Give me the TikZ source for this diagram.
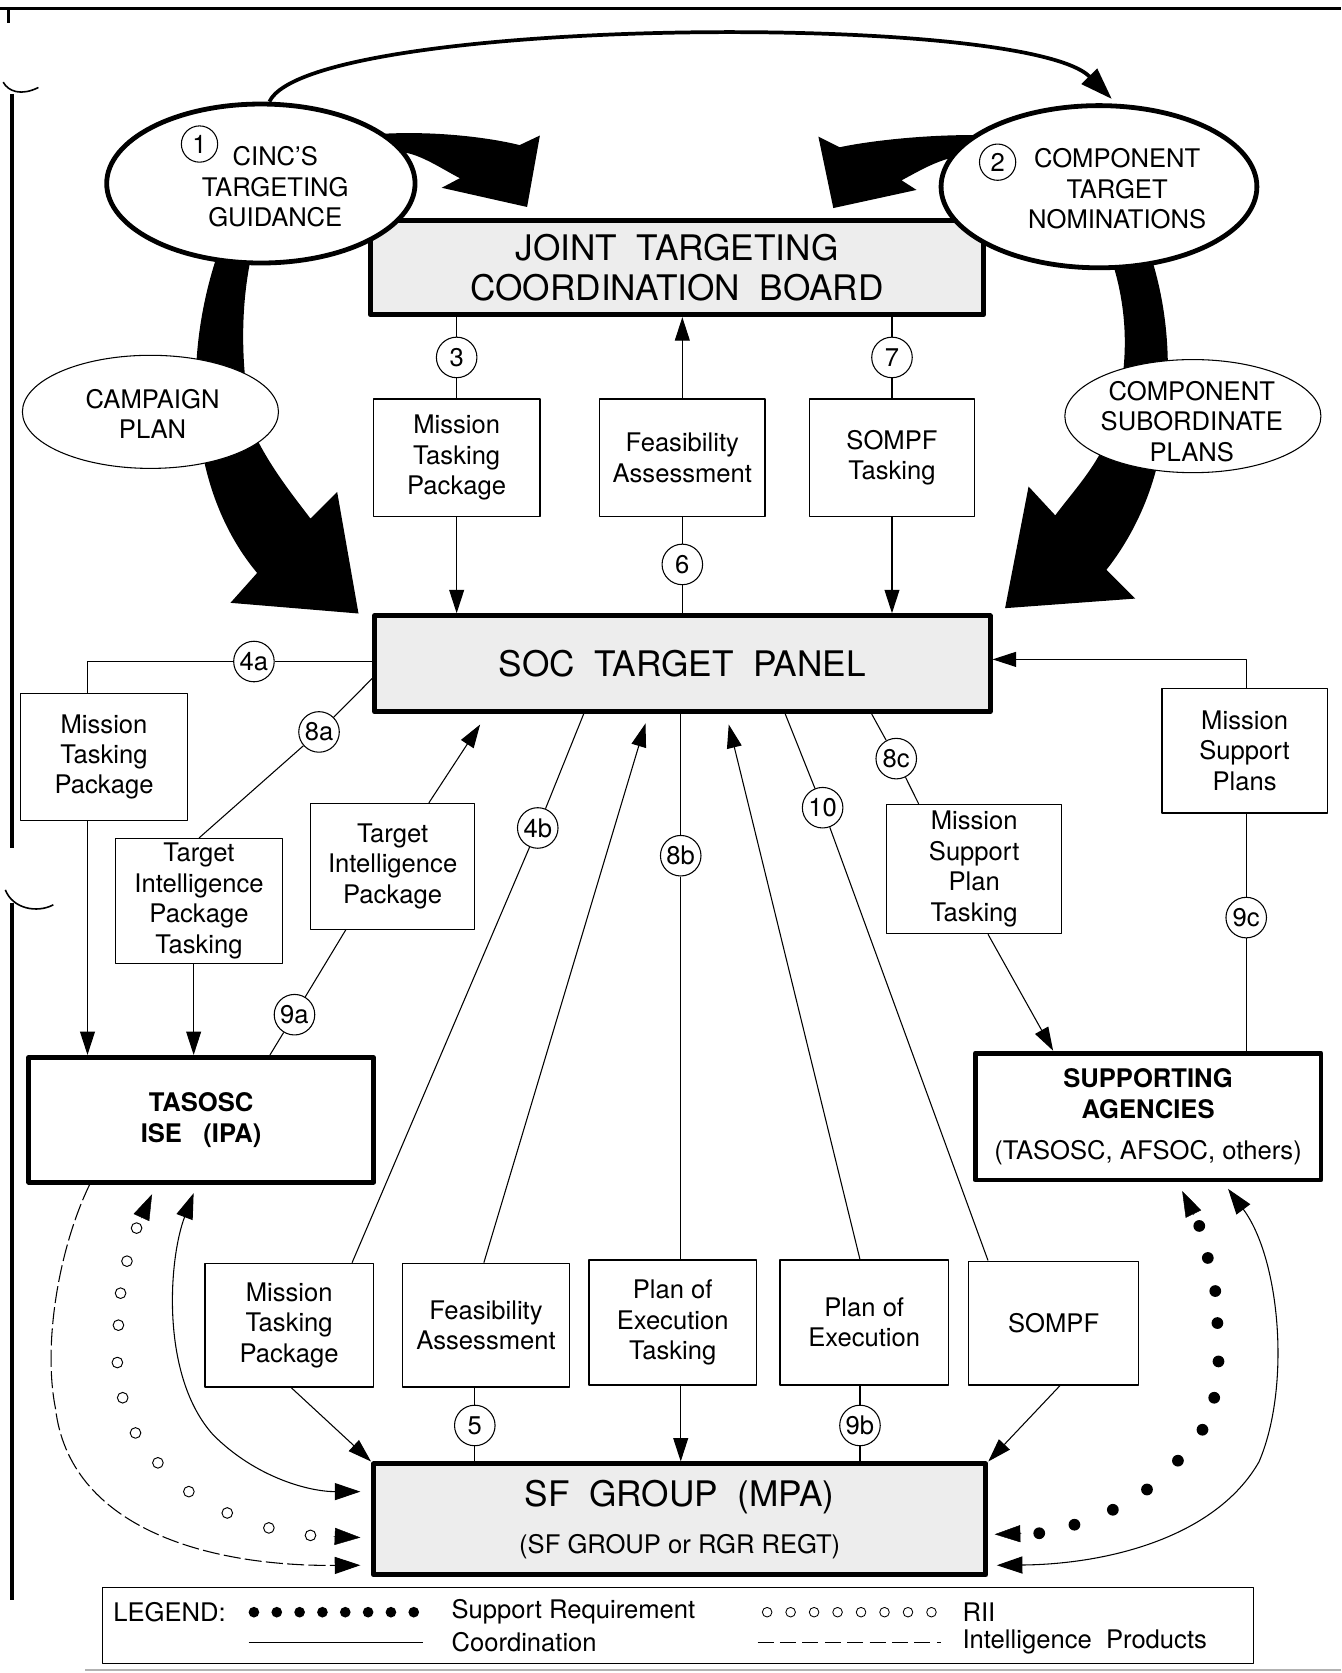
\documentclass[tikz,border=0pt]{standalone}
\usepackage{fontspec}
\setmainfont{TeX Gyre Heros}
\usetikzlibrary{arrows.meta,shapes.geometric,calc}

\begin{document}
\begin{tikzpicture}[x=1pt,y=-1pt,line join=round,
	font=\fontsize{24}{28.5}\selectfont,
	>={Triangle[length=22pt,width=14pt]},
	link/.style={line width=1pt},
	arr/.style={link,->},
	head/.style={line width=0.4pt,-{Triangle[length=24pt,width=16pt]}},
	box/.style={draw,line width=1.2pt,fill=white,align=center,minimum width=156pt,minimum height=116pt,inner sep=2pt},
	panel/.style={draw,line width=4.5pt,fill=black!7,align=center,font=\fontsize{33}{37}\selectfont},
	agency/.style={draw,line width=4.5pt,fill=white,align=center,font=\fontsize{24}{29}\selectfont\bfseries},
	oval/.style={ellipse,draw,fill=white,inner sep=0pt},
	num/.style={circle,draw,line width=1pt,fill=white,minimum size=38pt,inner sep=0pt},
	lgtext/.style={anchor=west,inner sep=0pt}]
\useasboundingbox (0,0) rectangle (1257,1568);

% page frame
\draw[line width=2.5pt] (0,8) -- (1257,8);
\draw[line width=2.5pt] (8,8) -- (8,22);
\draw[line width=1.5pt] (3,77) .. controls (8,86) and (20,90) .. (36,82);
\draw[line width=3.5pt] (11,88) -- (11,795);
\draw[line width=1.5pt] (5,834) .. controls (12,852) and (35,856) .. (50,848);
\draw[line width=3.5pt] (11,846) -- (11,1500);
\draw[gray!60,line width=1.5pt] (80,1565) -- (1257,1565);

% boards
\node[panel,minimum width=575pt,minimum height=88pt] (jtcb) at (634.5,251) {JOINT\ \ TARGETING\\COORDINATION\ \ BOARD};
\node[panel,minimum width=577pt,minimum height=90pt] (soc) at (639.5,622) {SOC\ \ TARGET\ \ PANEL};
\node[panel,minimum width=574pt,minimum height=104pt] (sfg) at (637,1424) {SF\ \ GROUP\ \ (MPA)\\[7pt]\fontsize{24}{28.5}\selectfont (SF GROUP or RGR REGT)};

% broad arrows
\fill (350,126) .. controls (400,122) and (455,128) .. (487,136) -- (506,127) -- (494,194) -- (414,176) -- (431,167) .. controls (410,156) and (392,143) .. (372,142) -- (350,140) -- cycle;
\fill (930,127) .. controls (880,125) and (820,131) .. (787,138) -- (767,128) -- (781,195) -- (859,178) -- (845,169) .. controls (862,160) and (878,150) .. (900,146) -- (930,146) -- cycle;
\fill (204,238) .. controls (188,285) and (180,340) .. (185,390) .. controls (190,450) and (210,500) .. (241,537) -- (216,565) -- (336,575) -- (316,461) -- (291,486) .. controls (275,465) and (255,440) .. (240,410) .. controls (228,370) and (222,300) .. (236,238) -- cycle;
\fill (1040,238) .. controls (1058,290) and (1058,340) .. (1045,390) .. controls (1035,430) and (1010,455) .. (989,483) -- (964,456) -- (942,570) -- (1064,561) -- (1037,534) .. controls (1060,505) and (1080,465) .. (1088,420) .. controls (1098,360) and (1098,300) .. (1078,238) -- cycle;

% ellipses
\node[oval,line width=4.5pt,minimum width=289pt,minimum height=149pt] (cinc) at (244.5,172) {};
\node[oval,line width=4.5pt,minimum width=296pt,minimum height=152pt] (ctn) at (1030,175) {};
\node[oval,line width=1pt,minimum width=240pt,minimum height=106pt] (camp) at (141,386) {};
\node[oval,line width=1pt,minimum width=240pt,minimum height=106pt] (csp) at (1118,390) {};
\node[align=center] (cinct) at (258,175) {CINC'S\\TARGETING\\GUIDANCE};
\node[align=center] (ctnt) at (1047,177) {COMPONENT\\TARGET\\NOMINATIONS};
\node[align=center] (campt) at (143,388) {CAMPAIGN\\PLAN};
\node[align=center] (cspt) at (1117,395) {COMPONENT\\SUBORDINATE\\PLANS};
\node[num,minimum size=34pt] (c1) at (187,135) {1};
\node[num,minimum size=34pt] (c2) at (935,152) {2};
\draw[line width=3.5pt,-{Triangle[length=30pt,width=20pt]}] ([xshift=8pt]cinc.north) .. controls (290,16) and (960,10) .. ([xshift=12pt,yshift=4pt]ctn.north);

% packages
\node[box,minimum height=110pt] (mtp3) at (428,429) {Mission\\Tasking\\Package};
\node[box,minimum width=155pt,minimum height=110pt] (fa6) at (639.5,429) {Feasibility\\Assessment};
\node[box,minimum width=155pt,minimum height=110pt] (sompft) at (836,429) {SOMPF\\Tasking};
\node[box,minimum width=157pt,minimum height=119pt] (mtp4a) at (97.5,709.5) {Mission\\Tasking\\Package};
\node[box,minimum width=157pt,minimum height=117pt] (tipt) at (186.5,844.5) {Target\\Intelligence\\Package\\Tasking};
\node[box,minimum width=154pt,minimum height=118pt] (tip) at (368,812) {Target\\Intelligence\\Package};
\node[box,minimum width=164pt,minimum height=121pt] (mspt) at (913,814.5) {Mission\\Support\\Plan\\Tasking};
\node[box,minimum width=155pt,minimum height=117pt] (msp) at (1166.5,703.5) {Mission\\Support\\Plans};
\node[box,minimum width=158pt] (mtp4b) at (271,1242) {Mission\\Tasking\\Package};
\node[box,minimum width=157pt] (fa5) at (455.5,1242) {Feasibility\\Assessment};
\node[box,minimum width=157pt,minimum height=117pt] (poet) at (630.5,1239.5) {Plan of\\Execution\\Tasking};
\node[box,minimum width=158pt,minimum height=117pt] (poe) at (810,1239.5) {Plan of\\Execution};
\node[box,minimum width=159pt] (sompf) at (987.5,1240) {SOMPF};
\node[agency,minimum width=323pt,minimum height=117pt] (tasosc) at (188.5,1049.5) {TASOSC\\ISE\ \ \ (IPA)};
\node[agency,minimum width=324pt,minimum height=119pt] (supag) at (1076,1046.5) {SUPPORTING\\AGENCIES\\[10pt]\mdseries (TASOSC, AFSOC, others)};

% step numbers
\node[num] (c3) at (428,335) {3};
\node[num] (c7) at (836,335) {7};
\node[num] (c6) at (639.5,529) {6};
\node[num] (c4a) at (238,620) {4a};
\node[num] (c8a) at (299,686) {8a};
\node[num] (c9a) at (276,951) {9a};
\node[num] (c4b) at (504,776) {4b};
\node[num] (c8b) at (638,802) {8b};
\node[num] (c10) at (771,757) {10};
\node[num] (c8c) at (840,711) {8c};
\node[num] (c9c) at (1168,860) {9c};
\node[num] (c5) at (445,1336) {5};
\node[num] (c9b) at (806,1336) {9b};
\coordinate (k4a) at (82,620);
\coordinate (t9a) at (450,679);
\coordinate (t5) at (605,678);
\coordinate (t9b) at (683,679);

% JTCB <-> SOC
\draw[link] (c3 |- jtcb.south) -- (c3) -- (c3 |- mtp3.north);
\draw[arr] (c3 |- mtp3.south) -- (c3 |- soc.north);
\draw[link] (c6 |- soc.north) -- (c6) -- (c6 |- fa6.south);
\draw[arr] (c6 |- fa6.north) -- (c6 |- jtcb.south);
\draw[link] (c7 |- jtcb.south) -- (c7) -- (c7 |- sompft.north);
\draw[arr] (c7 |- sompft.south) -- (c7 |- soc.north);

% SOC -> TASOSC
\draw[link] (soc.west |- c4a) -- (c4a) -- (k4a) -- (k4a |- mtp4a.north);
\draw[arr] (k4a |- mtp4a.south) -- (k4a |- tasosc.north);
\draw[link] ([yshift=-14pt]soc.west) -- (c8a) -- (tipt.north);
\draw[arr] ([xshift=-5pt]tipt.south) -- ([xshift=-5pt]tipt.south |- tasosc.north);
\draw[arr] ([xshift=34pt]tip.north) -- (t9a);
\draw[link] ([xshift=-44pt]tip.south) -- (c9a) -- ([xshift=64.5pt]tasosc.north);

% SOC <-> SF group
\draw[link] ([xshift=-92.5pt]soc.south) -- (c4b) -- ([xshift=59pt]mtp4b.north);
\draw[arr] ([xshift=-2pt]fa5.north) -- (t5);
\draw[link] (c8b |- soc.south) -- (c8b) -- (c8b |- poet.north);
\draw[arr] (c8b |- poet.south) -- (c8b |- sfg.north);
\draw[arr] ([xshift=-4pt]poe.north) -- (t9b);
\draw[link] ([xshift=96.5pt]soc.south) -- (c10) -- ([xshift=-61.5pt]sompf.north);
\draw[link] (c5 |- fa5.south) -- (c5) -- (c5 |- sfg.north);
\draw[link] (c9b |- poe.south) -- (c9b) -- (c9b |- sfg.north);
\draw[arr] ([xshift=2pt]mtp4b.south) -- (sfg.north west);
\draw[arr] ([xshift=6pt]sompf.south) -- (sfg.north east);

% SOC <-> supporting agencies
\draw[link] ([xshift=177.5pt]soc.south) -- (c8c) -- ([xshift=-52pt]mspt.north);
\draw[arr] ([xshift=13pt]mspt.south) -- ([xshift=-89pt]supag.north);
\draw[link] (c9c |- supag.north) -- (c9c) -- (c9c |- msp.south);
\draw[arr] (c9c |- msp.north) |- ([yshift=4pt]soc.east);

% lateral flows
\coordinate (riiA) at ([xshift=-46pt,yshift=-9pt]tasosc.south);
\coordinate (riiB) at ([xshift=-10pt,yshift=-17pt]sfg.west);
\coordinate (supA) at ([xshift=32pt,yshift=-8pt]supag.south);
\coordinate (supB) at ([xshift=6pt,yshift=-14pt]sfg.east);
\draw[link,dash pattern=on 16pt off 4pt,->,>={Triangle[length=24pt,width=16pt]}] ([xshift=-104.5pt]tasosc.south) .. controls (55,1170) and (40,1260) .. (52,1320) .. controls (65,1430) and (190,1468) .. ([xshift=-10pt,yshift=-43pt]sfg.west);
\foreach \p in {(128,1151),(119,1182),(113,1212),(111,1242),(110,1277),(115,1310),(127,1343),(148,1371),(177,1398),(213,1418),(252,1432),(291,1439)}
	\draw[line width=0.9pt] \p circle (5pt);
\draw[head] ($(riiA)!25pt!(128,1151)$) -- (riiA);
\draw[head] ($(riiB)!25pt!(291,1439)$) -- (riiB);
\draw[link,<->,>={Triangle[length=24pt,width=16pt]}] ([xshift=-7pt,yshift=-8pt]tasosc.south) .. controls (158,1180) and (150,1290) .. (200,1345) .. controls (240,1385) and (290,1398) .. ([xshift=-10pt,yshift=26pt]sfg.west);
\foreach \p in {(1124,1149),(1132,1179),(1139,1210),(1141,1240),(1142,1276),(1138,1310),(1127,1340),(1104,1369),(1075,1396),(1043,1415),(1007,1429),(974,1437)}
	\fill \p circle (5.5pt);
\draw[head] ($(supA)!25pt!(1124,1149)$) -- (supA);
\draw[head] ($(supB)!25pt!(974,1437)$) -- (supB);
\draw[link,<->,>={Triangle[length=24pt,width=16pt]}] ([xshift=75pt,yshift=-6pt]supag.south) .. controls (1200,1180) and (1210,1300) .. (1180,1370) .. controls (1140,1440) and (1040,1466) .. ([xshift=8pt,yshift=-43pt]sfg.east);

% legend
\node[draw,line width=1.2pt,minimum width=1079pt,minimum height=71pt] (legend) at (635.5,1523.5) {};
\node[lgtext] (lgd) at (106,1511) {LEGEND:};
\foreach \i in {0,...,7}
	\fill (238+21.4*\i,1511) circle (5pt);
\node[lgtext] (lsup) at (423,1511) {Support Requirement};
\foreach \i in {0,...,7}
	\draw[line width=0.8pt] (719+22*\i,1511) circle (4.5pt);
\node[lgtext] (lrii) at (902,1511) {RII};
\draw[link] (233,1539) -- (396,1539);
\node[lgtext] (lco) at (423,1539) {Coordination};
\draw[link,dash pattern=on 15pt off 6pt] (710,1539) -- (882,1539);
\node[lgtext] (lint) at (902,1539) {Intelligence\ \ Products};
\end{tikzpicture}
\end{document}
